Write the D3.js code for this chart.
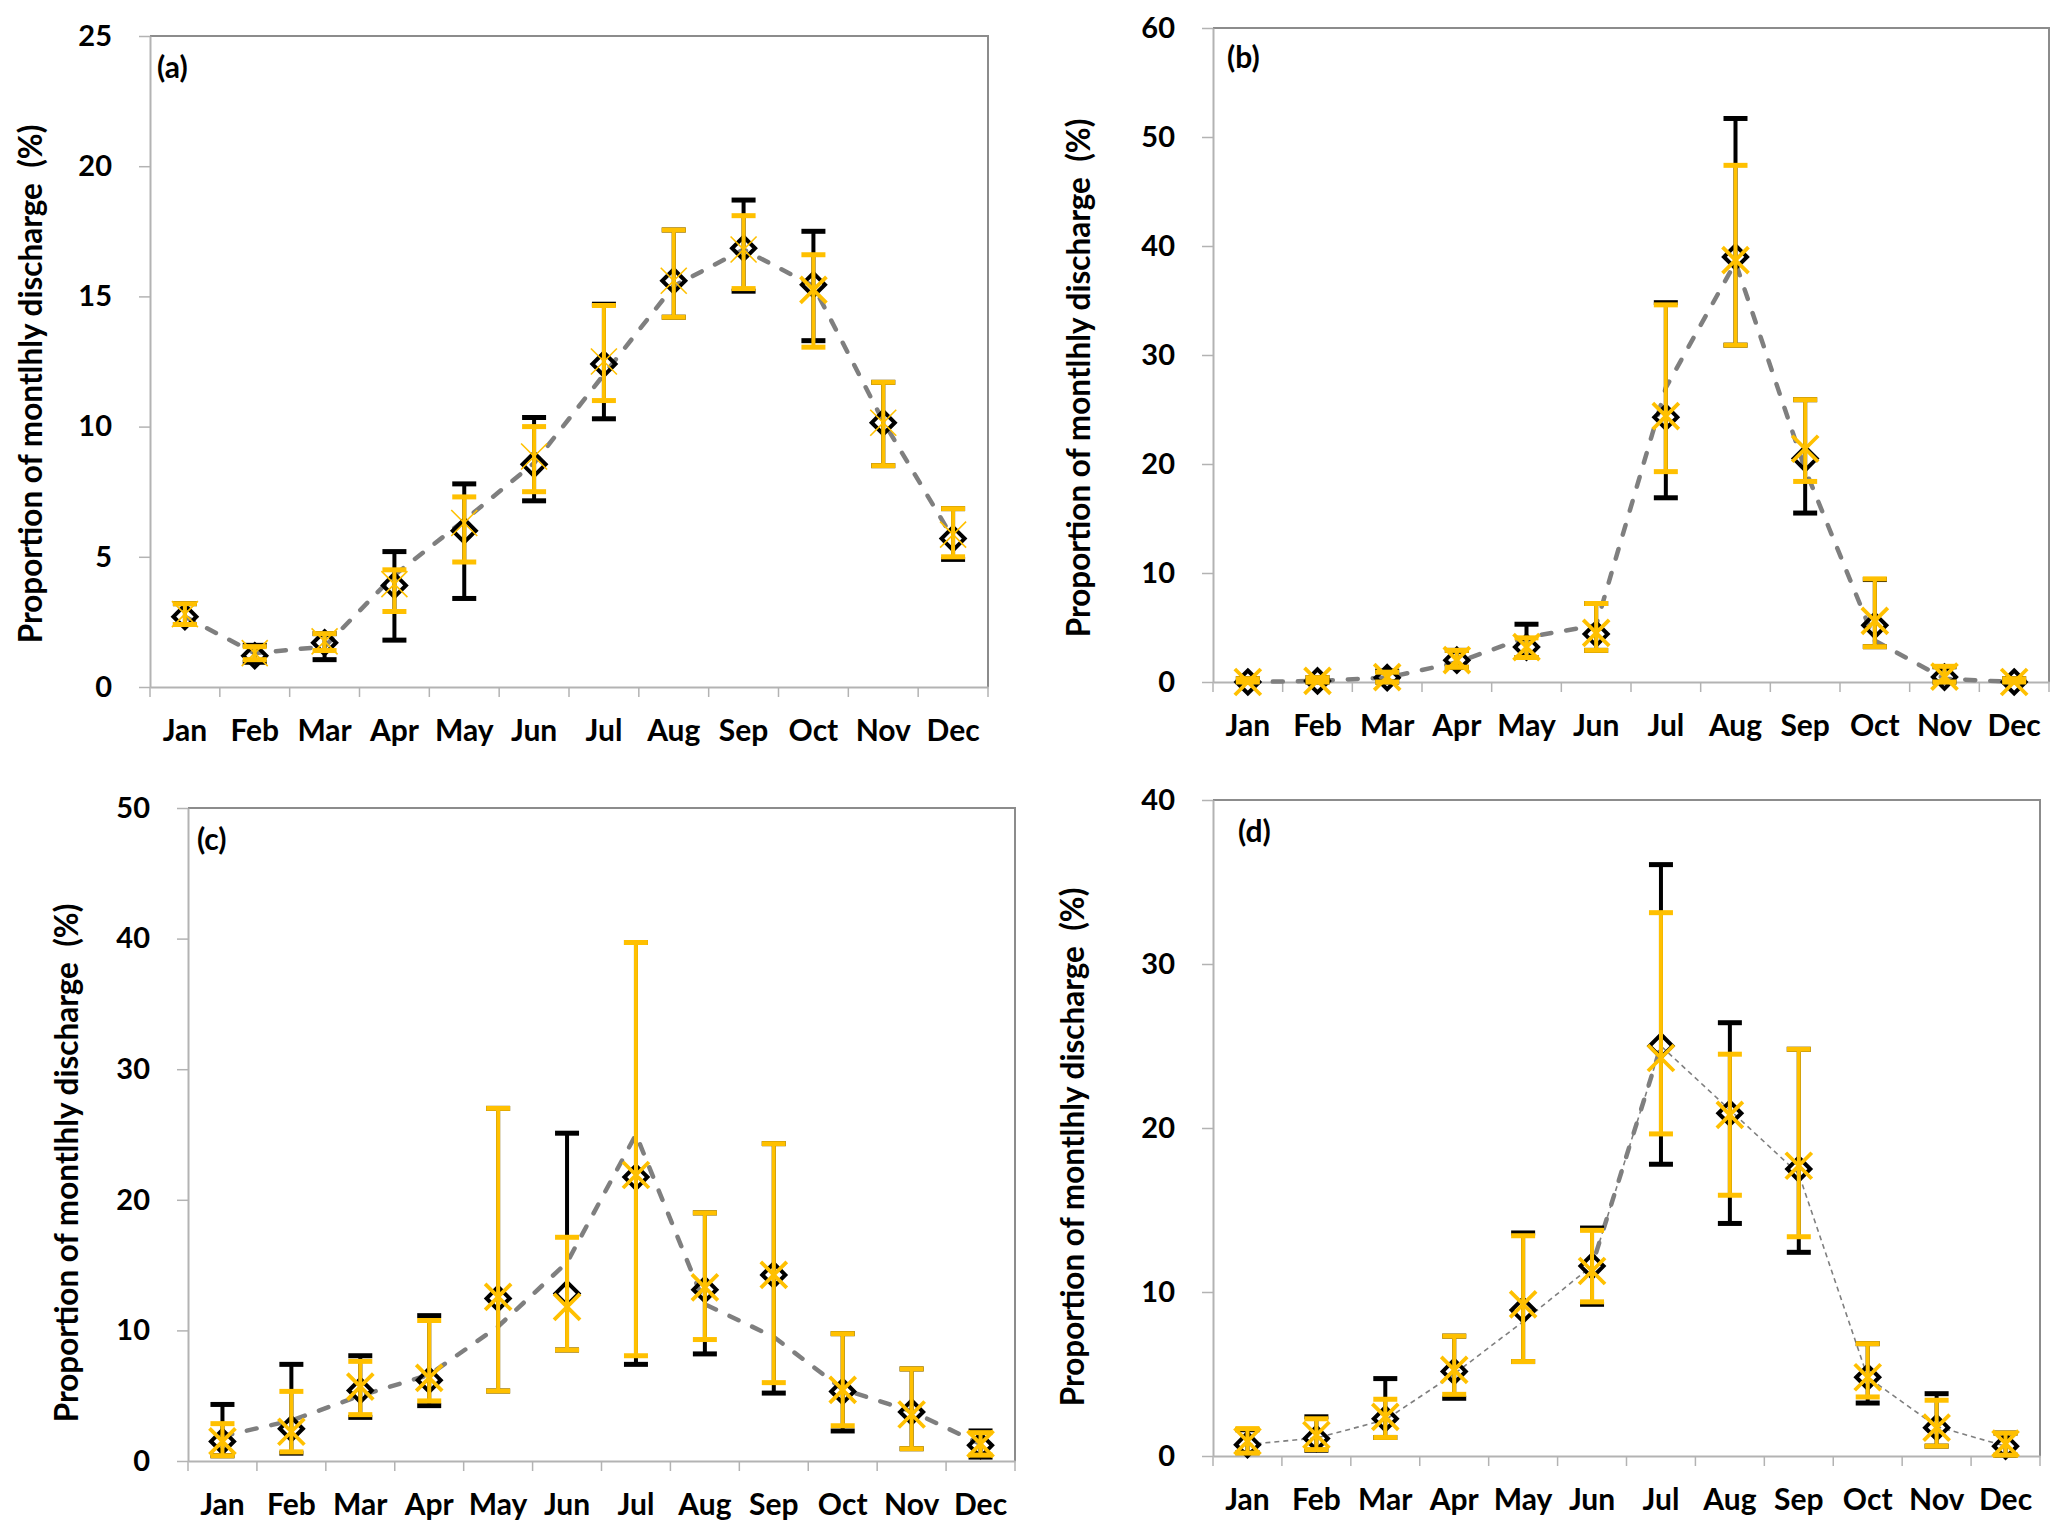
<!DOCTYPE html>
<html>
<head>
<meta charset="utf-8">
<script src="https://cdn.jsdelivr.net/npm/d3@7"></script>
<style>
  body { margin: 0; background: #fff; }
  svg { display: block; }
  text { font-family: Lato, "Open Sans", sans-serif; font-weight: 700; fill: #000; }
</style>
</head>
<body>
<div id="chart"></div>
<script>
const months = ["Jan", "Feb", "Mar", "Apr", "May", "Jun", "Jul", "Aug", "Sep", "Oct", "Nov", "Dec"];

// (a)
const lineA = [2.7, 1.3, 1.55, 4.3, 6.4, 8.6, 12.0, 15.4, 16.8, 15.4, 10.2, 5.7];
const blackA = [2.7, 1.2, 1.7, 3.9, 6.0, 8.55, 12.4, 15.6, 16.85, 15.45, 10.15, 5.7];
const blackLoA = [2.4, 0.95, 1.05, 1.8, 3.4, 7.15, 10.3, 14.2, 15.2, 13.3, 8.5, 4.9];
const blackHiA = [3.2, 1.6, 2.05, 5.2, 7.8, 10.35, 14.7, 17.55, 18.7, 17.5, 11.7, 6.85];
const orangeA = [2.8, 1.3, 1.75, 3.95, 6.3, 8.85, 12.5, 15.6, 16.8, 15.25, 10.15, 5.85];
const orangeLoA = [2.4, 1.05, 1.4, 2.9, 4.8, 7.5, 11.0, 14.2, 15.3, 13.05, 8.5, 5.0];
const orangeHiA = [3.2, 1.55, 2.05, 4.5, 7.3, 10.0, 14.65, 17.55, 18.1, 16.6, 11.7, 6.85];

// (b)
const lineB = [0, 0.1, 0.4, 1.8, 4.1, 5.2, 27.0, 38.5, 19.5, 3.8, 0.3, 0];
const blackB = [0, 0.1, 0.4, 2.0, 3.2, 4.4, 24.3, 39.0, 20.5, 5.2, 0.45, 0];
const blackLoB = [0, 0, 0, 1.35, 2.25, 2.9, 16.9, 30.9, 15.5, 3.24, 0, 0];
const blackHiB = [0.3, 0.4, 1.0, 2.9, 5.3, 7.2, 34.8, 51.7, 25.9, 9.4, 1.4, 0.3];
const orangeB = [0, 0.1, 0.45, 2.0, 3.2, 4.5, 24.4, 38.7, 21.4, 5.6, 0.5, 0];
const orangeLoB = [0, 0, 0, 1.35, 2.25, 2.9, 19.3, 30.9, 18.4, 3.24, 0, 0];
const orangeHiB = [0.3, 0.4, 0.9, 2.9, 4.05, 7.2, 34.6, 47.4, 25.9, 9.46, 1.44, 0.3];

// (c)
const lineC = [1.9, 3.1, 5.0, 6.6, 10.3, 15.2, 25.0, 12.0, 9.5, 5.5, 3.8, 1.3];
const blackC = [1.5, 2.47, 5.4, 6.19, 12.45, 12.82, 21.74, 13.12, 14.25, 5.32, 3.75, 1.2];
const blackLoC = [0.4, 0.6, 3.34, 4.24, 5.36, 8.5, 7.4, 8.2, 5.2, 2.3, 0.94, 0.3];
const blackHiC = [4.33, 7.4, 8.06, 11.13, 27.0, 25.1, 39.7, 19.0, 24.3, 9.75, 7.05, 2.3];
const orangeC = [1.5, 2.24, 5.7, 6.37, 12.56, 11.8, 21.9, 13.3, 14.25, 5.44, 3.56, 1.31];
const orangeLoC = [0.4, 0.7, 3.55, 4.6, 5.36, 8.5, 8.06, 9.3, 6.0, 2.7, 0.94, 0.45];
const orangeHiC = [2.86, 5.33, 7.63, 10.76, 27.0, 17.13, 39.7, 19.0, 24.3, 9.75, 7.05, 2.17];

// (d)
const lineD = [0.7, 1.1, 2.2, 5.0, 8.2, 11.6, 25.0, 21.1, 17.2, 4.8, 1.8, 0.6];
const blackD = [0.69, 1.07, 2.27, 5.16, 8.9, 11.58, 25.0, 20.9, 17.5, 4.8, 1.73, 0.6];
const blackLoD = [0.2, 0.35, 1.13, 3.52, 5.76, 9.25, 17.79, 14.18, 12.42, 3.23, 0.6, 0.05];
const blackHiD = [1.6, 2.39, 4.72, 7.31, 13.6, 13.9, 36.06, 26.42, 24.8, 6.85, 3.8, 1.4];
const orangeD = [0.9, 1.28, 2.39, 5.25, 9.25, 11.28, 24.27, 20.8, 17.7, 4.8, 1.73, 0.75];
const orangeLoD = [0.18, 0.39, 1.13, 3.76, 5.76, 9.4, 19.64, 15.9, 13.37, 3.6, 0.6, 0.05];
const orangeHiD = [1.67, 2.27, 3.46, 7.31, 13.43, 13.76, 33.13, 24.5, 24.8, 6.85, 3.4, 1.4];

const yTitle = "Proportion of montlhly discharge  (%)";

const ORANGE = "#FFC000";
const GREY = "#7f7f7f";
const FONT = "Lato, 'Open Sans', sans-serif";

const panels = [
    { label: "(a)", box: { l: 150, r: 988, t: 36, b: 687 }, yMax: 25, yStep: 5,
      line: lineA, black: blackA, blackLo: blackLoA, blackHi: blackHiA,
      orange: orangeA, orangeLo: orangeLoA, orangeHi: orangeHiA,
      titleX: 31, titleY: 384, labelX: 157, labelY: 78, thinX: true, thickXAt: [9] },
    { label: "(b)", box: { l: 1213, r: 2049, t: 28, b: 682 }, yMax: 60, yStep: 10,
      line: lineB, black: blackB, blackLo: blackLoB, blackHi: blackHiB,
      orange: orangeB, orangeLo: orangeLoB, orangeHi: orangeHiB,
      titleX: 1079, titleY: 378, labelX: 1227, labelY: 68 },
    { label: "(c)", box: { l: 188, r: 1015, t: 808, b: 1461 }, yMax: 50, yStep: 10,
      line: lineC, black: blackC, blackLo: blackLoC, blackHi: blackHiC,
      orange: orangeC, orangeLo: orangeLoC, orangeHi: orangeHiC,
      titleX: 67, titleY: 1163, labelX: 197, labelY: 850 },
    { label: "(d)", box: { l: 1213, r: 2040, t: 800, b: 1456 }, yMax: 40, yStep: 10,
      line: lineD, black: blackD, blackLo: blackLoD, blackHi: blackHiD,
      orange: orangeD, orangeLo: orangeLoD, orangeHi: orangeHiD,
      titleX: 1073, titleY: 1147, labelX: 1238, labelY: 842, thinLine: true, thickSeg: [5, 6] }
];

const svg = d3.select("#chart").append("svg")
    .attr("width", 2067)
    .attr("height", 1539);

panels.forEach(p => drawPanel(p));

function drawPanel(p) {
    const b = p.box;
    const x = d3.scaleBand().domain(months).range([b.l, b.r]).padding(0);
    const y = d3.scaleLinear().domain([0, p.yMax]).range([b.b, b.t]);
    const cx = m => x(m) + x.bandwidth() / 2;

    const g = svg.append("g");

    // plot frame (top / right)
    g.append("path")
        .attr("d", `M${b.l},${b.t}H${b.r}V${b.b}`)
        .attr("fill", "none")
        .attr("stroke", "#8c8c8c")
        .attr("stroke-width", 2);

    // y axis
    const yAxis = g.append("g")
        .attr("transform", `translate(${b.l},0)`)
        .call(d3.axisLeft(y)
            .tickValues(d3.range(0, p.yMax + 0.001, p.yStep))
            .tickSize(11)
            .tickPadding(27)
            .tickSizeOuter(0));
    yAxis.select(".domain").attr("stroke", "#b3b3b3").attr("stroke-width", 2);
    yAxis.selectAll(".tick line").attr("stroke", "#b3b3b3").attr("stroke-width", 1.5);
    yAxis.selectAll(".tick text")
        .attr("font-size", 29)
        .attr("font-family", FONT)
        .attr("font-weight", 700)
        .attr("fill", "#000");

    // x axis: labels at centres, ticks at category edges
    const xAxis = g.append("g")
        .attr("transform", `translate(0,${b.b})`)
        .call(d3.axisBottom(x).tickSize(0).tickPadding(0).tickSizeOuter(0));
    xAxis.select(".domain").attr("stroke", "#b3b3b3").attr("stroke-width", 2);
    xAxis.selectAll(".tick text")
        .attr("y", 54)
        .attr("dy", 0)
        .attr("font-size", 30)
        .attr("font-family", FONT)
        .attr("font-weight", 700)
        .attr("fill", "#000");
    const edges = months.map(m => x(m)).concat([b.r]);
    g.selectAll(".xedge")
        .data(edges)
        .enter()
        .append("line")
        .attr("class", "xedge")
        .attr("x1", d => d).attr("x2", d => d)
        .attr("y1", b.b).attr("y2", b.b + 10)
        .attr("stroke", "#b3b3b3")
        .attr("stroke-width", 1.5);

    // y title
    g.append("text")
        .attr("transform", `translate(${p.titleX},${p.titleY}) rotate(-90)`)
        .attr("text-anchor", "middle")
        .attr("dy", "0.35em")
        .attr("font-size", 31.5)
        .style("white-space", "pre")
        .text(yTitle);

    // panel label
    g.append("text")
        .attr("x", p.labelX)
        .attr("y", p.labelY)
        .attr("font-size", 30)
        .text(p.label);

    // dashed grey line
    const pts = months.map((m, i) => [cx(m), y(p.line[i])]);
    const lineGen = d3.line();
    if (p.thinLine) {
        g.append("path")
            .attr("d", lineGen(pts))
            .attr("fill", "none")
            .attr("stroke", GREY)
            .attr("stroke-width", 1.6)
            .attr("stroke-dasharray", "5,4");
        g.append("path")
            .attr("d", lineGen(pts.slice(p.thickSeg[0], p.thickSeg[1] + 1)))
            .attr("fill", "none")
            .attr("stroke", GREY)
            .attr("stroke-width", 4.5)
            .attr("stroke-linecap", "round")
            .attr("stroke-dasharray", "10,15")
            .attr("stroke-dashoffset", -14);
    } else {
        g.append("path")
            .attr("d", lineGen(pts))
            .attr("fill", "none")
            .attr("stroke", GREY)
            .attr("stroke-width", 4.5)
            .attr("stroke-linecap", "round")
            .attr("stroke-dasharray", "10,15");
    }

    // error bars
    function errorBars(lo, hi, color) {
        const eb = g.append("g");
        months.forEach((m, i) => {
            const xc = cx(m);
            eb.append("line")
                .attr("x1", xc).attr("x2", xc)
                .attr("y1", y(lo[i])).attr("y2", y(hi[i]))
                .attr("stroke", color).attr("stroke-width", 4);
            [lo[i], hi[i]].forEach(v => {
                eb.append("line")
                    .attr("x1", xc - 12).attr("x2", xc + 12)
                    .attr("y1", y(v)).attr("y2", y(v))
                    .attr("stroke", color).attr("stroke-width", 5);
            });
        });
    }

    errorBars(p.blackLo, p.blackHi, "#000");

    // black hollow diamonds
    g.selectAll(".dia")
        .data(months)
        .enter()
        .append("path")
        .attr("class", "dia")
        .attr("d", (m, i) => {
            const xc = cx(m), yc = y(p.black[i]), r = 11.5;
            return `M${xc},${yc - r}L${xc + r},${yc}L${xc},${yc + r}L${xc - r},${yc}Z`;
        })
        .attr("fill", "none")
        .attr("stroke", "#000")
        .attr("stroke-width", 4);

    errorBars(p.orangeLo, p.orangeHi, ORANGE);

    // orange X markers
    g.selectAll(".xm")
        .data(months)
        .enter()
        .append("path")
        .attr("class", "xm")
        .attr("d", (m, i) => {
            const xc = cx(m), yc = y(p.orange[i]), r = 13;
            return `M${xc - r},${yc - r}L${xc + r},${yc + r}M${xc - r},${yc + r}L${xc + r},${yc - r}`;
        })
        .attr("fill", "none")
        .attr("stroke", ORANGE)
        .attr("stroke-width", (m, i) => (p.thinX && !(p.thickXAt || []).includes(i)) ? 1.6 : 3.8);
}
</script>
</body>
</html>
